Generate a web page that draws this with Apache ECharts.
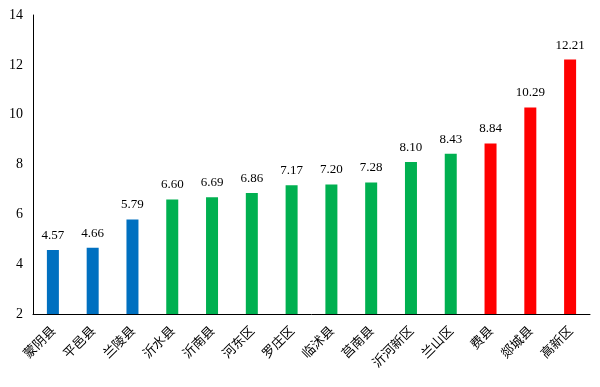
<!DOCTYPE html>
<html><head><meta charset="utf-8">
<script src="https://cdn.jsdelivr.net/npm/echarts@6/dist/echarts.min.js"></script>
<style>html,body{margin:0;padding:0;background:#fff}#c{width:600px;height:387px}</style>
</head><body><div id="c"></div>
<script>
const categories = ['蒙阴县','平邑县','兰陵县','沂水县','沂南县','河东区','罗庄区','临沭县','莒南县','沂河新区','兰山区','费县','郯城县','高新区'];
const values = [4.57,4.66,5.79,6.60,6.69,6.86,7.17,7.20,7.28,8.10,8.43,8.84,10.29,12.21];
const groups = ['blue','blue','blue','green','green','green','green','green','green','green','green','red','red','red'];
const palette = {blue:'#0070C0', green:'#00B050', red:'#FF0000'};
const chart = echarts.init(document.getElementById('c'));
chart.setOption({
  animation:false,
  grid:{left:33,top:15,right:10,bottom:73,containLabel:false},
  xAxis:{type:'category',data:categories,
    axisLine:{lineStyle:{color:'#000',width:1}},axisTick:{show:false},
    axisLabel:{rotate:45,interval:0,color:'#000',fontSize:13,margin:14,fontFamily:'Noto Sans CJK SC'}},
  yAxis:{type:'value',min:2,max:14,interval:2,
    axisLine:{show:true,lineStyle:{color:'#000',width:1}},axisTick:{show:false},
    splitLine:{show:false},
    axisLabel:{color:'#000',fontSize:14,margin:10,fontFamily:'Liberation Serif'}},
  series:[{type:'bar',barWidth:12,
    data:values.map((v,i)=>({value:v,itemStyle:{color:palette[groups[i]]}})),
    label:{show:true,position:'top',distance:8,color:'#000',fontSize:13,fontFamily:'Liberation Serif',
      formatter:p=>p.value.toFixed(2)}}]
});
</script></body></html>
